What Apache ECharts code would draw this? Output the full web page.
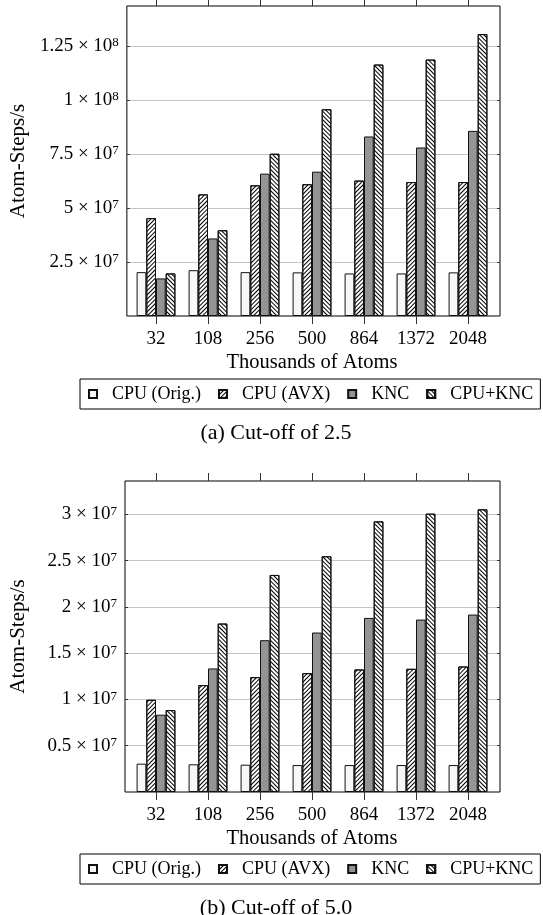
<!DOCTYPE html>
<html><head><meta charset="utf-8">
<script src="https://cdn.jsdelivr.net/npm/echarts@6/dist/echarts.min.js"></script>
<style>html,body{margin:0;padding:0;background:#fff}#c{width:543px;height:915px}</style>
</head><body><div id="c"></div>
<script>
const categories = ['32', '108', '256', '500', '864', '1372', '2048'];
const seriesNames = ['CPU (Orig.)', 'CPU (AVX)', 'KNC', 'CPU+KNC'];

// (a) Cut-off of 2.5
const cut25Orig = [2.03e7, 2.12e7, 2.03e7, 2.02e7, 1.97e7, 1.97e7, 2.02e7];
const cut25AVX  = [4.53e7, 5.63e7, 6.05e7, 6.10e7, 6.27e7, 6.20e7, 6.20e7];
const cut25KNC  = [1.74e7, 3.59e7, 6.59e7, 6.68e7, 8.31e7, 7.80e7, 8.57e7];
const cut25Both = [1.97e7, 3.97e7, 7.51e7, 9.57e7, 1.164e8, 1.187e8, 1.305e8];

// (b) Cut-off of 5.0
const cut50Orig = [3.06e6, 2.99e6, 2.95e6, 2.91e6, 2.91e6, 2.91e6, 2.91e6];
const cut50AVX  = [9.96e6, 1.155e7, 1.241e7, 1.284e7, 1.324e7, 1.331e7, 1.356e7];
const cut50KNC  = [8.35e6, 1.335e7, 1.640e7, 1.723e7, 1.881e7, 1.863e7, 1.917e7];
const cut50Both = [8.85e6, 1.82e7, 2.345e7, 2.547e7, 2.924e7, 3.007e7, 3.054e7];

// y tick values and labels (mantissa × 10^exp)
const yTicks25 = [2.5e7, 5e7, 7.5e7, 1e8, 1.25e8];
const yMant25  = ['2.5', '5', '7.5', '1', '1.25'];
const yExp25   = ['7', '7', '7', '8', '8'];
const yTicks50 = [0.5e7, 1e7, 1.5e7, 2e7, 2.5e7, 3e7];
const yMant50  = ['0.5', '1', '1.5', '2', '2.5', '3'];
const yExp50   = ['7', '7', '7', '7', '7', '7'];

const FONT = 'Liberation Serif';
const BORDER = '#111';

const barStyles = [
  { color: '#f7f7f7', borderColor: BORDER, borderWidth: 1 },
  { color: '#ffffff', borderColor: BORDER, borderWidth: 1,
    decal: { symbol: 'rect', symbolSize: 1, dashArrayX: [1, 0], dashArrayY: [0.8, 1.6], rotation: -Math.PI / 4, color: '#000' } },
  { color: '#949494', borderColor: BORDER, borderWidth: 1 },
  { color: '#ffffff', borderColor: BORDER, borderWidth: 1,
    decal: { symbol: 'rect', symbolSize: 1, dashArrayX: [1, 0], dashArrayY: [0.8, 1.6], rotation: Math.PI / 4, color: '#000' } }
];

const charts = [
  { frame: { left: 125, top: 6, width: 375, height: 310 }, bars: { left: 130, top: 6, width: 364, height: 310 },
    yMax: 1.435e8, interval: 2.5e7, ticks: yTicks25, mant: yMant25, exp: yExp25,
    values: [cut25Orig, cut25AVX, cut25KNC, cut25Both], legendTop: 379, titleTop: 422, caption: '(a) Cut-off of 2.5' },
  { frame: { left: 125, top: 481, width: 375, height: 311 }, bars: { left: 130, top: 481, width: 364, height: 311 },
    yMax: 3.36e7, interval: 5e6, ticks: yTicks50, mant: yMant50, exp: yExp50,
    values: [cut50Orig, cut50AVX, cut50KNC, cut50Both], legendTop: 854, titleTop: 897, caption: '(b) Cut-off of 5.0' }
];

const option = { animation: false, backgroundColor: '#fff', grid: [], xAxis: [], yAxis: [], series: [], legend: [], title: [] };

charts.forEach((c, k) => {
  const gF = option.grid.length;
  option.grid.push(Object.assign({ show: true, borderColor: '#000', borderWidth: 1, backgroundColor: 'transparent' }, c.frame));
  const gB = option.grid.length;
  option.grid.push(Object.assign({ show: false }, c.bars));

  const fmt = (v) => {
    const i = c.ticks.findIndex(t => Math.abs(t - v) < c.interval * 1e-6);
    if (i < 0) return '';
    return '{m|' + c.mant[i] + ' × 10}{e|' + c.exp[i] + '}';
  };

  // frame grid axes
  option.xAxis.push({ gridIndex: gF, type: 'category', data: categories, show: false });
  option.yAxis.push({
    gridIndex: gF, type: 'value', position: 'left', min: 0, max: c.yMax, interval: c.interval,
    axisLine: { show: false },
    axisTick: { show: true, inside: true, length: 3, lineStyle: { color: '#333' }, customValues: c.ticks },
    splitLine: { show: true, lineStyle: { color: '#c4c4c4', width: 1 } },
    axisLabel: {
      margin: 8, color: '#000', formatter: fmt, customValues: c.ticks,
      rich: {
        m: { fontFamily: FONT, fontSize: 19, color: '#000', verticalAlign: 'bottom' },
        e: { fontFamily: FONT, fontSize: 13, color: '#000', verticalAlign: 'top' }
      }
    },
    name: 'Atom-Steps/s', nameLocation: 'middle', nameGap: 96,
    nameTextStyle: { fontFamily: FONT, fontSize: 21, color: '#000' }
  });
  option.yAxis.push({
    gridIndex: gF, type: 'value', position: 'right', min: 0, max: c.yMax, interval: c.interval,
    axisLine: { show: false }, splitLine: { show: false }, axisLabel: { show: false },
    axisTick: { show: true, inside: true, length: 3, lineStyle: { color: '#333' }, customValues: c.ticks }
  });

  // bar grid axes
  const xi = option.xAxis.length;
  option.xAxis.push({
    gridIndex: gB, type: 'category', data: categories, position: 'bottom', boundaryGap: true,
    axisLine: { show: false },
    axisTick: { show: true, alignWithLabel: true, length: 8, lineStyle: { color: '#333' } },
    axisLabel: { margin: 14, fontFamily: FONT, fontSize: 19, color: '#000' },
    splitLine: { show: false },
    name: 'Thousands of Atoms', nameLocation: 'middle', nameGap: 36.5,
    nameTextStyle: { fontFamily: FONT, fontSize: 20.5, color: '#000' }
  });
  option.xAxis.push({
    gridIndex: gB, type: 'category', data: categories, position: 'top', boundaryGap: true,
    axisLine: { show: false },
    axisTick: { show: true, alignWithLabel: true, length: 8, lineStyle: { color: '#333' } },
    axisLabel: { show: false }, splitLine: { show: false }
  });
  const yi = option.yAxis.length;
  option.yAxis.push({ gridIndex: gB, type: 'value', min: 0, max: c.yMax, show: false, splitLine: { show: false } });

  seriesNames.forEach((name, s) => {
    option.series.push({
      type: 'bar', name: name, xAxisIndex: xi, yAxisIndex: yi,
      data: c.values[s], barWidth: 9.7, barGap: '0%',
      itemStyle: barStyles[s], emphasis: { disabled: true }
    });
  });

  option.legend.push({
    top: c.legendTop, left: 80, width: 480, orient: 'horizontal', data: seriesNames, selectedMode: false,
    icon: 'rect', itemWidth: 8, itemHeight: 8, itemGap: 17,
    padding: [6, 7, 6, 8], borderColor: '#000', borderWidth: 1,
    textStyle: { fontFamily: FONT, fontSize: 18, color: '#000', padding: [0, 0, 0, 10] }
  });

  option.title.push({
    text: c.caption, left: 276, top: c.titleTop, textAlign: 'center', padding: 0,
    textStyle: { fontFamily: FONT, fontSize: 22, fontWeight: 'normal', color: '#000' }
  });
});

const chart = echarts.init(document.getElementById('c'), null, { renderer: 'canvas' });
chart.setOption(option);
</script>
</body></html>
